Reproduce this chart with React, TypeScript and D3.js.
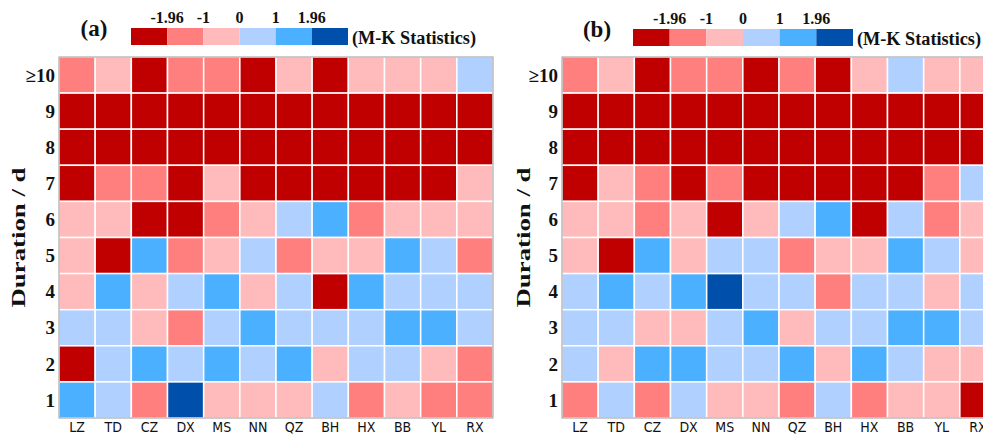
import React from "react";
import * as d3 from "d3";

const stations = ["LZ", "TD", "CZ", "DX", "MS", "NN", "QZ", "BH", "HX", "BB", "YL", "RX"];
const durations = ["≥10", "9", "8", "7", "6", "5", "4", "3", "2", "1"];
const thresholds = [-1.96, -1, 0, 1, 1.96];
const thresholdLabels = ["-1.96", "-1", "0", "1", "1.96"];
const palette = ["#C00000", "#FF7F7F", "#FFBBBB", "#B0D0FF", "#4AB0FF", "#004FAA"];

// Estimated M-K statistics (rows: ≥10 .. 1, columns: stations)
const valuesA: number[][] = [
  [-1.5, -0.5, -2.5, -1.5, -1.5, -2.5, -0.5, -2.5, -0.5, -0.5, -0.5, 0.5],
  [-2.5, -2.5, -2.5, -2.5, -2.5, -2.5, -2.5, -2.5, -2.5, -2.5, -2.5, -2.5],
  [-2.5, -2.5, -2.5, -2.5, -2.5, -2.5, -2.5, -2.5, -2.5, -2.5, -2.5, -2.5],
  [-2.5, -1.5, -1.5, -2.5, -0.5, -2.5, -2.5, -2.5, -2.5, -2.5, -2.5, -0.5],
  [-0.5, -0.5, -2.5, -2.5, -1.5, -0.5, 0.5, 1.5, -1.5, -0.5, -0.5, -0.5],
  [-0.5, -2.5, 1.5, -1.5, -0.5, 0.5, -1.5, -0.5, -0.5, 1.5, 0.5, -1.5],
  [-0.5, 1.5, -0.5, 0.5, 1.5, -0.5, 0.5, -2.5, 1.5, 0.5, 0.5, 0.5],
  [0.5, 0.5, -0.5, -1.5, 0.5, 1.5, 0.5, 0.5, 0.5, 1.5, 1.5, 0.5],
  [-2.5, 0.5, 1.5, 0.5, 1.5, 0.5, 1.5, -0.5, 0.5, 0.5, -0.5, -1.5],
  [1.5, 0.5, -1.5, 2.5, -0.5, -0.5, -0.5, 0.5, -1.5, -0.5, -1.5, -1.5],
];

const valuesB: number[][] = [
  [-1.5, -0.5, -2.5, -1.5, -1.5, -2.5, -1.5, -2.5, -0.5, 0.5, -0.5, -0.5],
  [-2.5, -2.5, -2.5, -2.5, -2.5, -2.5, -2.5, -2.5, -2.5, -2.5, -2.5, -2.5],
  [-2.5, -2.5, -2.5, -2.5, -2.5, -2.5, -2.5, -2.5, -2.5, -2.5, -2.5, -2.5],
  [-2.5, -0.5, -1.5, -2.5, -1.5, -2.5, -2.5, -2.5, -2.5, -2.5, -1.5, 0.5],
  [-0.5, -0.5, -1.5, -0.5, -2.5, -0.5, 0.5, 1.5, -2.5, 0.5, -1.5, -0.5],
  [-0.5, -2.5, 1.5, -0.5, 0.5, 0.5, -1.5, -0.5, -0.5, 1.5, 0.5, -0.5],
  [0.5, 1.5, 0.5, 1.5, 2.5, 0.5, 0.5, -1.5, 0.5, 0.5, -0.5, 0.5],
  [0.5, 0.5, -0.5, -0.5, 0.5, 1.5, -0.5, 0.5, 0.5, 1.5, 1.5, 0.5],
  [0.5, -0.5, 1.5, 1.5, 0.5, 0.5, 1.5, -0.5, 1.5, 0.5, -0.5, -0.5],
  [-1.5, 0.5, -1.5, 0.5, -0.5, -0.5, -1.5, 0.5, -1.5, -0.5, -0.5, -2.5],
];

const color = d3.scaleThreshold<number, string>().domain(thresholds).range(palette);

const serif = "'Liberation Serif', 'Times New Roman', serif";
const sans = "'DejaVu Sans Condensed', 'DejaVu Sans', sans-serif";

type PanelProps = {
  values: number[][];
  label: string;
  gx: number;
  gy: number;
  gw: number;
  gh: number;
  labelX: number;
  legendX: number;
  legendW: number;
  legendY: number;
  titleX: number;
};

function Panel({ values, label, gx, gy, gw, gh, labelX, legendX, legendW, legendY, titleX }: PanelProps) {
  const x = d3.scaleBand<string>().domain(stations).range([gx, gx + gw]);
  const y = d3.scaleBand<string>().domain(durations).range([gy, gy + gh]);
  const lx = d3.scaleLinear().domain([0, palette.length]).range([legendX, legendX + legendW]);
  return (
    <g>
      {values.map((row, ri) =>
        row.map((v, ci) => (
          <rect
            key={`${ri}-${ci}`}
            x={x(stations[ci])}
            y={y(durations[ri])}
            width={x.bandwidth()}
            height={y.bandwidth()}
            fill={color(v)}
            stroke="#ffffff"
            strokeWidth={1.5}
          />
        ))
      )}
      <rect x={gx} y={gy} width={gw} height={gh} fill="none" stroke="#9a9a9a" strokeWidth={1} />
      {durations.map((d) => (
        <text
          key={d}
          x={gx - 4}
          y={(y(d) ?? 0) + y.bandwidth() / 2}
          dy="0.35em"
          textAnchor="end"
          fontFamily={serif}
          fontWeight="bold"
          fontSize={19}
          fill="#111"
        >
          {d}
        </text>
      ))}
      {stations.map((s) => (
        <text
          key={s}
          x={(x(s) ?? 0) + x.bandwidth() / 2}
          y={gy + gh + 13.5}
          textAnchor="middle"
          fontFamily={sans}
          fontSize={14}
          fill="#111"
        >
          {s}
        </text>
      ))}
      <text
        transform={`translate(${labelX},${gy + gh / 2}) rotate(-90)`}
        textAnchor="middle"
        dy="0.35em"
        fontFamily={serif}
        fontWeight="bold"
        fontSize={19}
        textLength={140}
        lengthAdjust="spacingAndGlyphs"
        fill="#111"
      >
        Duration / d
      </text>
      <text x={titleX} y={legendY + 8} textAnchor="middle" fontFamily={serif} fontWeight="bold" fontSize={23} fill="#111">
        {label}
      </text>
      {palette.map((c, i) => (
        <rect key={c} x={lx(i)} y={legendY} width={lx(i + 1) - lx(i)} height={17} fill={c} />
      ))}
      {thresholdLabels.map((t, i) => (
        <text
          key={t}
          x={lx(i + 1)}
          y={legendY - 5}
          textAnchor="middle"
          fontFamily={serif}
          fontWeight="bold"
          fontSize={16}
          fill="#111"
        >
          {t}
        </text>
      ))}
      <text
        x={lx(palette.length) + 4}
        y={legendY + 16}
        fontFamily={serif}
        fontWeight="bold"
        fontSize={18}
        textLength={124}
        lengthAdjust="spacingAndGlyphs"
        fill="#111"
      >
        (M-K Statistics)
      </text>
    </g>
  );
}

export default function App() {
  return (
    <svg
      width={983}
      height={435}
      style={{ position: "absolute", left: 0, top: 0, background: "#fff" }}
    >
      <rect width={983} height={435} fill="#fff" />
      <Panel
        values={valuesA}
        label="(a)"
        gx={59}
        gy={57}
        gw={434}
        gh={361}
        labelX={18}
        legendX={131}
        legendW={217}
        legendY={28}
        titleX={94}
      />
      <Panel
        values={valuesB}
        label="(b)"
        gx={562}
        gy={57}
        gw={434}
        gh={361}
        labelX={523}
        legendX={633}
        legendW={220}
        legendY={29}
        titleX={597}
      />
    </svg>
  );
}
